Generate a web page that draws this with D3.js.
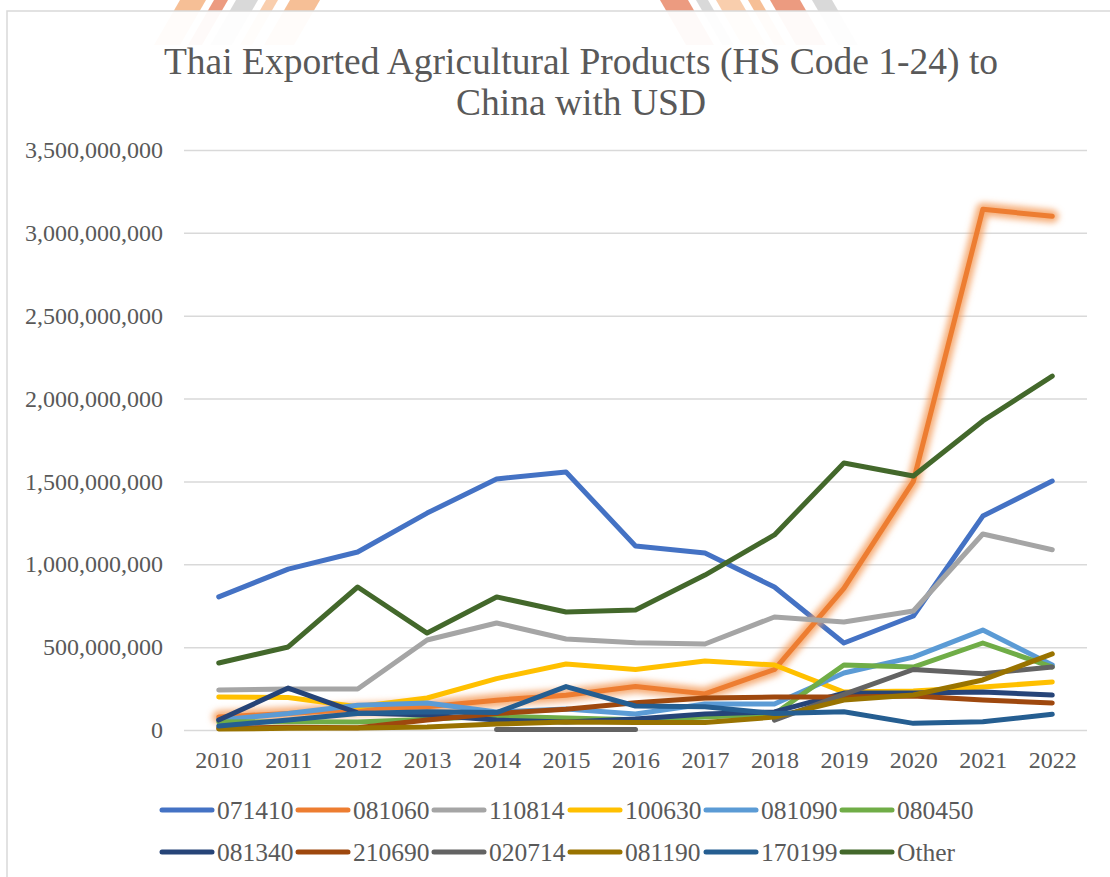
<!DOCTYPE html>
<html>
<head>
<meta charset="utf-8">
<script src="https://cdn.jsdelivr.net/npm/d3@7"></script>
<style>
  html, body { margin: 0; padding: 0; background: #ffffff; }
  svg { display: block; }
  text { font-family: "Liberation Serif", "Times New Roman", serif; fill: #595959; }
</style>
</head>
<body>
<svg id="chart" width="1110" height="877"></svg>
<script>
// ---- data (USD) ----
const years = ["2010","2011","2012","2013","2014","2015","2016","2017","2018","2019","2020","2021","2022"];
const yTicks = [0, 5e8, 1e9, 1.5e9, 2e9, 2.5e9, 3e9, 3.5e9];
const chartTitle = ["Thai Exported Agricultural Products (HS Code 1-24) to", "China with USD"];

const s071410 = [803e6, 971e6, 1074e6, 1309e6, 1515e6, 1557e6, 1110e6, 1068e6, 863e6, 525e6, 688e6, 1291e6, 1502e6];
const s081060 = [78e6, 100e6, 125e6, 140e6, 180e6, 210e6, 262e6, 218e6, 365e6, 855e6, 1500e6, 3142e6, 3100e6];
const s110814 = [241e6, 247e6, 247e6, 543e6, 646e6, 549e6, 527e6, 519e6, 682e6, 652e6, 718e6, 1183e6, 1088e6];
const s100630 = [199e6, 196e6, 140e6, 193e6, 310e6, 398e6, 365e6, 416e6, 392e6, 229e6, 235e6, 259e6, 290e6];
const s081090 = [60e6, 100e6, 150e6, 163e6, 109e6, 127e6, 97e6, 157e6, 157e6, 344e6, 440e6, 603e6, 392e6];
const s080450 = [48e6, 50e6, 48e6, 65e6, 84e6, 72e6, 62e6, 78e6, 97e6, 392e6, 380e6, 525e6, 380e6];
const s081340 = [60e6, 253e6, 103e6, 90e6, 60e6, 48e6, 66e6, 97e6, 109e6, 223e6, 223e6, 229e6, 211e6];
const s210690 = [12e6, 16e6, 14e6, 60e6, 100e6, 125e6, 165e6, 193e6, 199e6, 199e6, 205e6, 181e6, 163e6];
const s020714 = [null, null, null, null, 3e6, 3e6, 3e6, null, 60e6, 215e6, 365e6, 340e6, 380e6];
const s081190 = [6e6, 10e6, 12e6, 18e6, 36e6, 48e6, 45e6, 45e6, 78e6, 181e6, 211e6, 302e6, 459e6];
const s170199 = [24e6, 60e6, 100e6, 110e6, 105e6, 262e6, 145e6, 140e6, 100e6, 110e6, 40e6, 50e6, 95e6];
const sOther  = [404e6, 501e6, 863e6, 585e6, 803e6, 712e6, 724e6, 935e6, 1177e6, 1611e6, 1533e6, 1865e6, 2136e6];

const seriesNames  = ["071410","081060","110814","100630","081090","080450","081340","210690","020714","081190","170199","Other"];
const seriesValues = [s071410, s081060, s110814, s100630, s081090, s080450, s081340, s210690, s020714, s081190, s170199, sOther];
const seriesColors = ["#4472C4","#ED7D31","#A5A5A5","#FFC000","#5B9BD5","#70AD47","#264478","#9E480E","#636363","#997300","#255E91","#43682B"];

// ---- layout ----
const svg = d3.select("#chart");
const plot = { left: 184, right: 1087, top: 150, bottom: 730 };

const defs = svg.append("defs");
defs.append("filter").attr("id", "glow")
  .attr("x", "-10%").attr("y", "-10%").attr("width", "120%").attr("height", "120%")
  .append("feGaussianBlur").attr("stdDeviation", 3.2);

// faint emblem behind the chart frame
const mark = svg.append("g").attr("class", "emblem");
const stripeColors = ["#F2A46A", "#E4704A", "#C9C9C9", "#F6B98A"];
function stripe(x0, w, slant, color) {
  const h = 45;
  mark.append("path")
    .attr("d", `M${x0},0 L${x0 + w},0 L${x0 + w + slant},${h} L${x0 + slant},${h} Z`)
    .attr("fill", color).attr("opacity", 0.7);
}
[[180, 26], [214, 14], [236, 22], [266, 12], [290, 30]].forEach((s, i) => stripe(s[0], s[1], -26, stripeColors[i % 4]));
[[660, 28], [696, 12], [716, 24], [748, 12], [770, 30], [812, 20]].forEach((s, i) => stripe(s[0], s[1], 26, stripeColors[(i + 1) % 4]));

// chart frame
svg.append("rect")
  .attr("x", 7).attr("y", 11).attr("width", 1120).attr("height", 880)
  .attr("fill", "#ffffff").attr("fill-opacity", 0.95)
  .attr("stroke", "#D9D9D9").attr("stroke-width", 1.5);

// title
svg.append("text")
  .attr("x", 581).attr("y", 74)
  .attr("text-anchor", "middle")
  .style("font-size", "37.5px")
  .selectAll("tspan").data(chartTitle).join("tspan")
  .attr("x", 581).attr("dy", (d, i) => i === 0 ? 0 : 41)
  .text(d => d);

// scales
const x = d3.scalePoint().domain(years).range([plot.left, plot.right]).padding(0.5);
const y = d3.scaleLinear().domain([0, 3.5e9]).range([plot.bottom, plot.top]);

// y axis with gridlines
const yAxis = svg.append("g")
  .attr("transform", `translate(${plot.left},0)`)
  .call(d3.axisLeft(y).tickValues(yTicks).tickFormat(d3.format(","))
    .tickSize(-(plot.right - plot.left)).tickPadding(21));
yAxis.select(".domain").remove();
yAxis.selectAll(".tick line").attr("stroke", "#D9D9D9").attr("stroke-width", 1.5);
yAxis.selectAll(".tick text")
  .style("font-family", "'Liberation Serif', 'Times New Roman', serif")
  .style("font-size", "24px").attr("fill", "#595959");

// x axis
const xAxis = svg.append("g")
  .attr("transform", `translate(0,${plot.bottom})`)
  .call(d3.axisBottom(x).tickSize(0).tickPadding(21));
xAxis.select(".domain").remove();
xAxis.selectAll(".tick text")
  .style("font-family", "'Liberation Serif', 'Times New Roman', serif")
  .style("font-size", "24px").attr("fill", "#595959");

// lines
const line = d3.line()
  .defined(d => d.v !== null)
  .x(d => x(d.year))
  .y(d => y(d.v));

const lines = svg.append("g").attr("class", "series");
seriesNames.forEach((name, i) => {
  const pts = years.map((yr, j) => ({ year: yr, v: seriesValues[i][j] }));
  if (name === "081060") {
    lines.append("path")
      .attr("d", line(pts))
      .attr("fill", "none")
      .attr("stroke", "#F4A060")
      .attr("stroke-opacity", 0.85)
      .attr("stroke-width", 13)
      .attr("stroke-linejoin", "round")
      .attr("stroke-linecap", "round")
      .attr("filter", "url(#glow)");
  }
  lines.append("path")
    .attr("d", line(pts))
    .attr("fill", "none")
    .attr("stroke", seriesColors[i])
    .attr("stroke-width", 5)
    .attr("stroke-linejoin", "round")
    .attr("stroke-linecap", "round");
});

// legend
const legend = svg.append("g").attr("class", "legend");
const legendX0 = 160, legendPitch = 136, legendRows = [810, 852];
seriesNames.forEach((name, i) => {
  const col = i % 6, row = Math.floor(i / 6);
  const g = legend.append("g")
    .attr("transform", `translate(${legendX0 + col * legendPitch},${legendRows[row]})`);
  g.append("line")
    .attr("x1", 2).attr("x2", 52).attr("y1", 0).attr("y2", 0)
    .attr("stroke", seriesColors[i]).attr("stroke-width", 5)
    .attr("stroke-linecap", "round");
  g.append("text")
    .attr("x", 57).attr("y", 0).attr("dy", "0.35em")
    .style("font-size", "25.5px")
    .text(name);
});
</script>
</body>
</html>
